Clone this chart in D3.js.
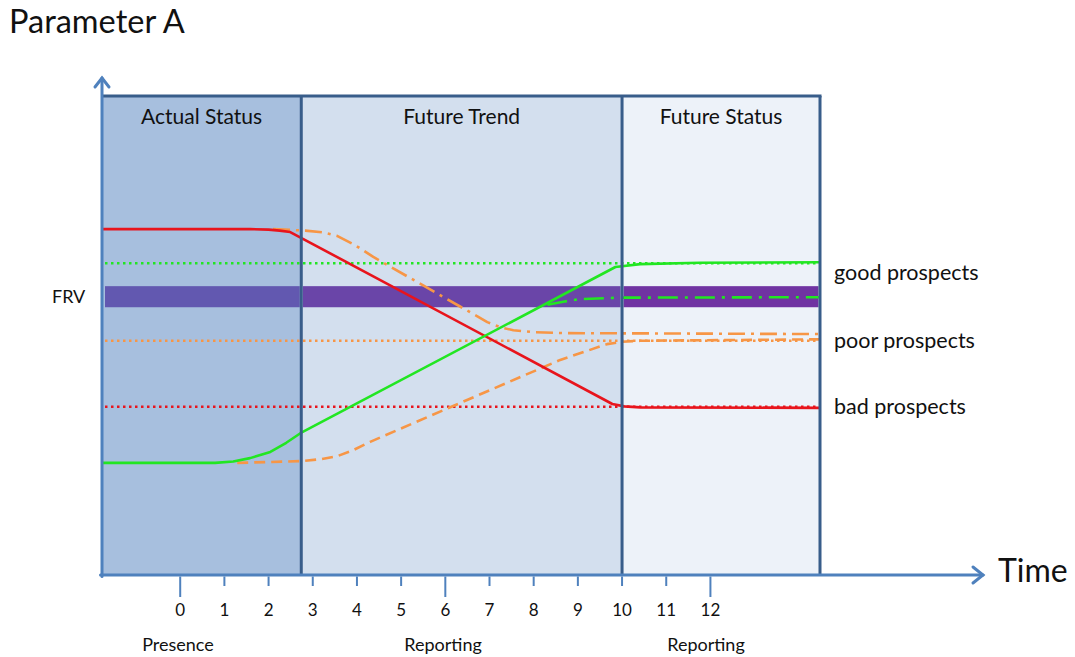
<!DOCTYPE html>
<html>
<head>
<meta charset="utf-8">
<script src="https://cdn.jsdelivr.net/npm/d3@7"></script>
<style>
    body { margin: 0; background: #fff; }
    svg text { font-family: Lato, "Open Sans", sans-serif; fill: #111; }
</style>
</head>
<body>
<div id="chart"></div>
<script>
// time axis
var timeTicks = [0, 1, 2, 3, 4, 5, 6, 7, 8, 9, 10, 11, 12];
var majorTicks = [0, 6, 12];
var timeStart = -1.77, timeEnd = 14.48;

// phases
var phaseNames = ["Actual Status", "Future Trend", "Future Status"];
var phaseStarts = [-1.77, 2.74, 10];
var phaseEnds = [2.74, 10, 14.48];
var phaseFooters = ["Presence", "Reporting", "Reporting"];
var footerTimes = [-0.05, 5.95, 11.9];

// FRV band and reference levels (parameter A, arbitrary units 0..100)
var frvLow = 55.9, frvHigh = 60.3;
var prospectNames = ["good prospects", "poor prospects", "bad prospects"];
var prospectLevels = [65.1, 48.9, 35.1];
var prospectLabelLevels = [63.2, 48.9, 35.1];

// trajectories [time, value]
var redSolid = [[-1.77, 72.2], [1.58, 72.2], [2.0, 72.1], [2.25, 71.9], [2.49, 71.6], [9.78, 35.7], [10.05, 35.2], [10.41, 35.0], [14.48, 34.9]];
var greenSolid = [[-1.77, 23.4], [0.79, 23.4], [1.2, 23.7], [1.58, 24.4], [2.04, 25.7], [2.4, 27.6], [2.72, 29.6], [9.85, 64.3], [10.41, 64.9], [11.77, 65.2], [14.48, 65.3]];
var greenDashDot = [[8.31, 56.4], [8.7, 57.1], [9.05, 57.6], [9.98, 57.9], [14.48, 58.0]];
var orangeDashDot = [[2.10, 72.2], [2.83, 71.9], [3.25, 71.5], [3.55, 70.8], [3.95, 68.9], [4.37, 66.4], [6.04, 57.6], [6.95, 52.8], [7.25, 51.7], [7.54, 51.1], [8.0, 50.7], [8.67, 50.5], [14.48, 50.3]];
var orangeDashed = [[1.29, 23.4], [2.78, 23.8], [3.2, 24.2], [3.55, 24.8], [3.9, 26.0], [4.30, 27.8], [6.86, 38.0], [8.60, 44.9], [9.66, 48.2], [10.0, 48.7], [10.41, 48.9], [14.48, 49.2]];

var width = 1075, height = 657;
var panelFill = ["#A7BFDE", "#D3DFEE", "#EDF2F9"];
var bandFill = ["#6258B0", "#6A45A8", "#7033A2"];
var prospectColors = ["#22E622", "#F79646", "#E8141C"];
var axisColor = "#4F81BD", borderColor = "#385D8A";

var svg = d3.select("#chart").append("svg")
    .attr("width", width)
    .attr("height", height);

var x = d3.scaleLinear().domain([timeStart, timeEnd]).range([102, 820]);
var y = d3.scaleLinear().domain([0, 100]).range([575, 96]);

// panels
var panels = svg.append("g").attr("class", "panels");
phaseNames.forEach(function(name, i) {
    panels.append("rect")
        .attr("x", x(phaseStarts[i]))
        .attr("y", y(100))
        .attr("width", x(phaseEnds[i]) - x(phaseStarts[i]))
        .attr("height", y(0) - y(100))
        .attr("fill", panelFill[i]);
    panels.append("rect")
        .attr("x", x(phaseStarts[i]) + (i == 0 ? 3 : 1.5))
        .attr("y", y(frvHigh))
        .attr("width", x(phaseEnds[i]) - x(phaseStarts[i]) - (i == 0 ? 3 : 1.5) - 1.5)
        .attr("height", y(frvLow) - y(frvHigh))
        .attr("fill", bandFill[i]);
    panels.append("text")
        .attr("x", (x(phaseStarts[i]) + x(phaseEnds[i])) / 2)
        .attr("y", 124)
        .attr("text-anchor", "middle")
        .attr("font-size", "21px")
        .text(name);
});

// reference dotted levels
var levels = svg.append("g").attr("class", "levels");
prospectLevels.forEach(function(v, i) {
    levels.append("line")
        .attr("x1", x(timeStart) + 3).attr("x2", x(timeEnd) - 2)
        .attr("y1", y(v)).attr("y2", y(v))
        .attr("stroke", prospectColors[i])
        .attr("stroke-width", 2.5)
        .attr("stroke-dasharray", "2.5,3.5");
    svg.append("text")
        .attr("x", 834)
        .attr("y", y(prospectLabelLevels[i]))
        .attr("dy", "0.35em")
        .attr("font-size", "21.5px")
        .text(prospectNames[i]);
});

// trajectories
var line = d3.line()
    .x(function(d) { return x(d[0]); })
    .y(function(d) { return y(d[1]); });

var series = [
    { data: orangeDashed, color: prospectColors[1], dash: "11,6" },
    { data: orangeDashDot, color: prospectColors[1], dash: "17,6,3,6" },
    { data: greenDashDot, color: prospectColors[0], dash: "20,7,3,7" },
    { data: redSolid, color: prospectColors[2], dash: null },
    { data: greenSolid, color: prospectColors[0], dash: null }
];
series.forEach(function(s) {
    svg.append("path")
        .attr("d", line(s.data))
        .attr("fill", "none")
        .attr("stroke", s.color)
        .attr("stroke-width", 2.6)
        .attr("stroke-linejoin", "round")
        .attr("stroke-dasharray", s.dash);
});

// panel borders
var borders = svg.append("g").attr("class", "borders");
borders.append("line")
    .attr("x1", x(timeStart)).attr("x2", x(timeEnd) + 1.5)
    .attr("y1", y(100)).attr("y2", y(100))
    .attr("stroke", borderColor).attr("stroke-width", 3);
phaseEnds.forEach(function(t) {
    borders.append("line")
        .attr("x1", x(t)).attr("x2", x(t))
        .attr("y1", y(100)).attr("y2", y(0))
        .attr("stroke", borderColor).attr("stroke-width", 3);
});

// axes with arrows
var axes = svg.append("g").attr("class", "axes")
    .attr("stroke", axisColor).attr("stroke-width", 3)
    .attr("fill", "none").attr("stroke-linecap", "round");
axes.append("line").attr("x1", x(timeStart)).attr("x2", x(timeStart))
    .attr("y1", y(0) + 1.5).attr("y2", 78);
axes.append("polyline").attr("points", [[x(timeStart) - 7, 87], [x(timeStart), 78], [x(timeStart) + 7, 87]].join(" "));
axes.append("line").attr("x1", x(timeStart) - 1.5).attr("x2", 983)
    .attr("y1", y(0)).attr("y2", y(0));
axes.append("polyline").attr("points", [[973, y(0) - 8], [983, y(0)], [973, y(0) + 8]].join(" "));

// time ticks
var tickG = svg.append("g").attr("class", "ticks");
timeTicks.forEach(function(t) {
    var major = majorTicks.indexOf(t) >= 0;
    tickG.append("line")
        .attr("x1", x(t)).attr("x2", x(t))
        .attr("y1", y(0) + 1.5).attr("y2", y(0) + (major ? 22 : 11))
        .attr("stroke", axisColor).attr("stroke-width", 2);
    tickG.append("text")
        .attr("x", x(t))
        .attr("y", 616)
        .attr("text-anchor", "middle")
        .attr("font-size", "17px")
        .text(t);
});
phaseFooters.forEach(function(name, i) {
    svg.append("text")
        .attr("x", x(footerTimes[i]))
        .attr("y", 651)
        .attr("text-anchor", "middle")
        .attr("font-size", "18px")
        .text(name);
});

// titles
svg.append("text").attr("x", 9).attr("y", 33).attr("font-size", "32.5px").text("Parameter A");
svg.append("text").attr("x", 998).attr("y", 582).attr("font-size", "32px").text("Time");
svg.append("text").attr("x", 52).attr("y", y((frvLow + frvHigh) / 2)).attr("dy", "0.35em")
    .attr("font-size", "18px").text("FRV");
</script>
</body>
</html>
